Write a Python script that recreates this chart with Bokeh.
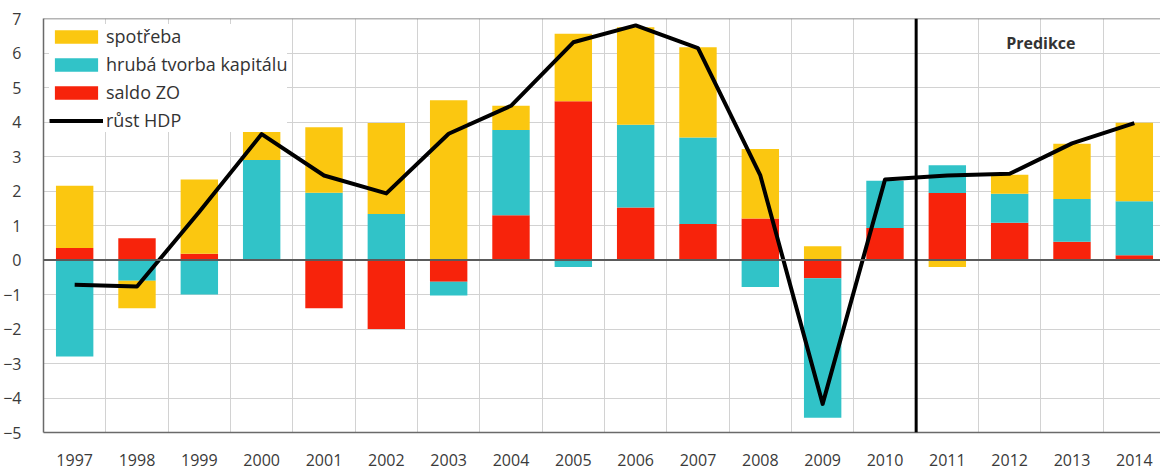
import numpy as np
from bokeh.plotting import figure
from bokeh.models import (Range1d, Span, SingleIntervalTicker, FixedTicker,
                          Legend, LegendItem, ColumnDataSource, Label)
from bokeh.embed import file_html
from bokeh.resources import INLINE

years = ["1997", "1998", "1999", "2000", "2001", "2002", "2003", "2004", "2005",
         "2006", "2007", "2008", "2009", "2010", "2011", "2012", "2013", "2014"]
spotreba = [1.8, -0.8, 2.15, 0.85, 1.9, 2.64, 4.63, 0.7, 1.96,
            2.83, 2.62, 2.02, 0.4, 0.0, -0.2, 0.55, 1.6, 2.28]
htk = [-2.8, -0.6, -1.0, 2.9, 1.95, 1.33, -0.4, 2.47, -0.2,
       2.4, 2.51, -0.78, -4.04, 1.37, 0.81, 0.84, 1.24, 1.56]
saldo_zo = [0.35, 0.63, 0.18, 0.0, -1.4, -2.0, -0.63, 1.3, 4.6,
            1.52, 1.04, 1.2, -0.53, 0.93, 1.94, 1.08, 0.53, 0.14]
rust_hdp = [-0.72, -0.77, 1.4, 3.65, 2.45, 1.93, 3.66, 4.47, 6.31,
            6.8, 6.14, 2.45, -4.17, 2.33, 2.45, 2.5, 3.38, 3.97]

series_names = ["spotřeba", "hrubá tvorba kapitálu", "saldo ZO"]
series_colors = ["#FBC710", "#31C3C8", "#F7230B"]
series_values = [spotreba, htk, saldo_zo]
line_name = "růst HDP"
prediction_label = "Predikce"

x = np.arange(len(years))

p = figure(width=1160, height=472, output_backend="svg", toolbar_location=None,
           x_range=Range1d(-0.5, 17.42), y_range=Range1d(-5, 7),
           min_border_left=40, min_border_top=18, min_border_bottom=40,
           min_border_right=0)
p.outline_line_color = None
p.background_fill_color = "white"
p.border_fill_color = "white"

# stacking order from zero: saldo ZO, HTK, spotřeba (positives and negatives separately)
pos_base = np.zeros(len(years))
neg_base = np.zeros(len(years))
renderers = {}
for name, color, vals in reversed(list(zip(series_names, series_colors, series_values))):
    v = np.array(vals, dtype=float)
    bottom = np.where(v >= 0, pos_base, neg_base)
    top = bottom + v
    pos_base = np.where(v >= 0, top, pos_base)
    neg_base = np.where(v < 0, top, neg_base)
    src = ColumnDataSource(dict(x=x, top=top, bottom=bottom))
    renderers[name] = p.vbar(x="x", top="top", bottom="bottom", width=0.6,
                             source=src, fill_color=color, line_color=None)

line_src = ColumnDataSource(dict(x=x, y=rust_hdp))
line_r = p.line(x="x", y="y", source=line_src, line_color="black", line_width=4,
                line_join="round")

# zero line and top border
p.add_layout(Span(location=0, dimension="width", line_color="#5a5a5a", line_width=2))
p.add_layout(Span(location=7, dimension="width", line_color="#6a6a6a", line_width=1.5))
# forecast separator between 2010 and 2011
p.add_layout(Span(location=years.index("2011") - 0.5, dimension="height",
                  line_color="black", line_width=3))
p.add_layout(Label(x=years.index("2012") + 0.5, y=6.3, text=prediction_label,
                   text_font="Open Sans", text_font_style="bold",
                   text_font_size="16px", text_color="#333333",
                   text_align="center", text_baseline="middle"))

# axes
p.xaxis.ticker = FixedTicker(ticks=list(x))
p.xaxis.major_label_overrides = {int(i): y for i, y in zip(x, years)}
p.xaxis.major_tick_line_color = None
p.xaxis.minor_tick_line_color = None
p.xaxis.major_label_standoff = 15
p.xaxis.axis_line_color = "#6a6a6a"
p.xaxis.axis_line_width = 1.5
p.xaxis.major_label_text_font = "Open Sans"
p.xaxis.major_label_text_font_size = "16px"
p.xaxis.major_label_text_color = "#3a3a3a"

p.yaxis.ticker = SingleIntervalTicker(interval=1)
p.yaxis.major_tick_line_color = None
p.yaxis.minor_tick_line_color = None
p.yaxis.major_label_standoff = 16
p.yaxis.axis_line_color = "#6a6a6a"
p.yaxis.axis_line_width = 1.5
p.yaxis.major_label_text_font = "Open Sans"
p.yaxis.major_label_text_font_size = "16px"
p.yaxis.major_label_text_color = "#3a3a3a"

p.xgrid.ticker = FixedTicker(ticks=list(x + 0.5))
p.xgrid.grid_line_color = "#d2d2d2"
p.ygrid.ticker = SingleIntervalTicker(interval=1)
p.ygrid.grid_line_color = "#d2d2d2"

items = [LegendItem(label=n, renderers=[renderers[n]]) for n in series_names]
items.append(LegendItem(label=line_name, renderers=[line_r]))
legend = Legend(items=items, location="top_left", orientation="vertical",
                margin=6, padding=13, spacing=4, glyph_width=54, glyph_height=17,
                label_height=17, label_standoff=3,
                label_text_font="Open Sans", label_text_font_size="18px",
                label_text_color="#333333",
                background_fill_color="white", background_fill_alpha=1.0,
                border_line_color=None)
p.add_layout(legend)

open("out.html", "w").write(file_html(p, INLINE))
